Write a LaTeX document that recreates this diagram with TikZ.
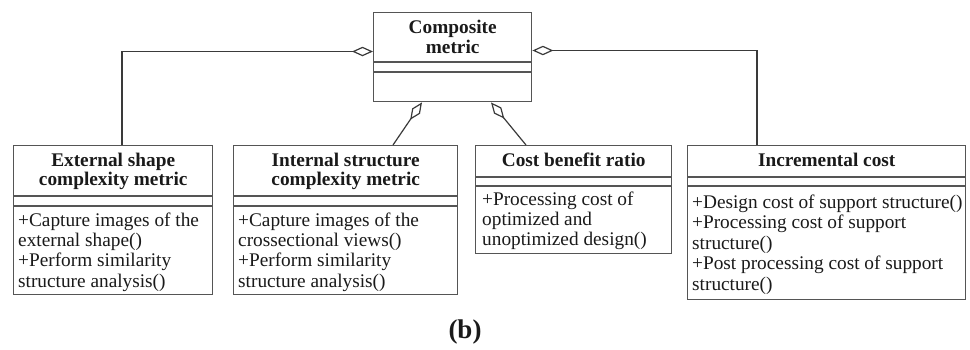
\documentclass[tikz,border=0pt]{standalone}
\usepackage{fontspec}
\setmainfont{Liberation Serif}
\usetikzlibrary{arrows.meta,calc}
\definecolor{boxline}{HTML}{555555}
\definecolor{linkline}{HTML}{3A3A3A}
\definecolor{ink}{HTML}{1A1A1A}

\begin{document}
\begin{tikzpicture}[x=1pt,y=-1pt,
  classbox/.style={draw=boxline, line width=1.4pt, anchor=north west, inner sep=0pt, fill=white},
  sepline/.style={draw=boxline, line width=1.4pt},
  % the base anchor of a multi-line node sits on its last line
  title/.style={font=\fontsize{19.3}{19.5}\selectfont\bfseries, text=ink, align=center, anchor=base, inner sep=0pt},
  body/.style={font=\fontsize{19.3}{20.3}\selectfont, text=ink, align=left, anchor=base west, inner sep=0pt},
  agg/.style={draw=linkline, line width=1.2pt, {Diamond[open,length=21pt,width=9.5pt,line width=1.2pt]}-}
]
\useasboundingbox (0,0) rectangle (970,349);

% class boxes
\node[classbox, minimum width=158pt, minimum height=89pt] (comp) at (373,12) {};
\node[classbox, minimum width=199pt, minimum height=149pt] (ext) at (13,145) {};
\node[classbox, minimum width=224pt, minimum height=149pt] (int) at (233,145) {};
\node[classbox, minimum width=196pt, minimum height=108pt] (cbr) at (475,145) {};
\node[classbox, minimum width=278pt, minimum height=154pt] (inc) at (687,145) {};

% compartment separators
\foreach \n/\a/\b in {comp/50/60, ext/51/61, int/51/61, cbr/32/41, inc/32/41} {
  \draw[sepline] ($(\n.north west)+(0,\a)$) -- ($(\n.north east)+(0,\a)$);
  \draw[sepline] ($(\n.north west)+(0,\b)$) -- ($(\n.north east)+(0,\b)$);
}

% class names
\node[title, font=\fontsize{19.3}{20}\selectfont\bfseries] (compT) at ($(comp.north)+(0,41)$) {Composite\\metric};
\node[title, font=\fontsize{19.3}{18.8}\selectfont\bfseries] (extT) at ($(ext.north)+(0,40)$) {External shape\\complexity metric};
\node[title, font=\fontsize{19.3}{18.8}\selectfont\bfseries] (intT) at ($(int.north)+(0,40)$) {Internal structure\\complexity metric};
\node[title] (cbrT) at ($(cbr.north)+(0,21)$) {Cost benefit ratio};
\node[title] (incT) at ($(inc.north)+(0,21)$) {Incremental cost};

% operations
\node[body] (extO) at ($(ext.north west)+(5,142)$) {+Capture images of the\\external shape()\\+Perform similarity\\structure analysis()};
\node[body] (intO) at ($(int.north west)+(5,142)$) {+Capture images of the\\crossectional views()\\+Perform similarity\\structure analysis()};
\node[body, font=\fontsize{19.3}{19.6}\selectfont] (cbrO) at ($(cbr.north west)+(7,100)$) {+Processing cost of\\optimized and\\unoptimized design()};
\node[body, font=\fontsize{19.3}{20.5}\selectfont] (incO) at ($(inc.north west)+(5,145)$) {+Design cost of support structure()\\+Processing cost of support\\structure()\\+Post processing cost of support\\structure()};

% aggregation links
\draw[agg] ($(comp.north west)+(0,39.5)$) -| ($(ext.north west)+(109,0)$);
\draw[agg] ($(comp.north east)+(0,38.5)$) -| ($(inc.north west)+(70,0)$);
\draw[agg] ($(comp.south west)+(49,0)$) -- ($(int.north west)+(160,0)$);
\draw[agg] ($(comp.south west)+(118,0)$) -- ($(cbr.north west)+(51,0)$);

% caption
\node[font=\fontsize{27}{30}\selectfont\bfseries, text=ink, anchor=base, inner sep=0pt] (cap) at (465,338) {(b)};
\end{tikzpicture}
\end{document}
